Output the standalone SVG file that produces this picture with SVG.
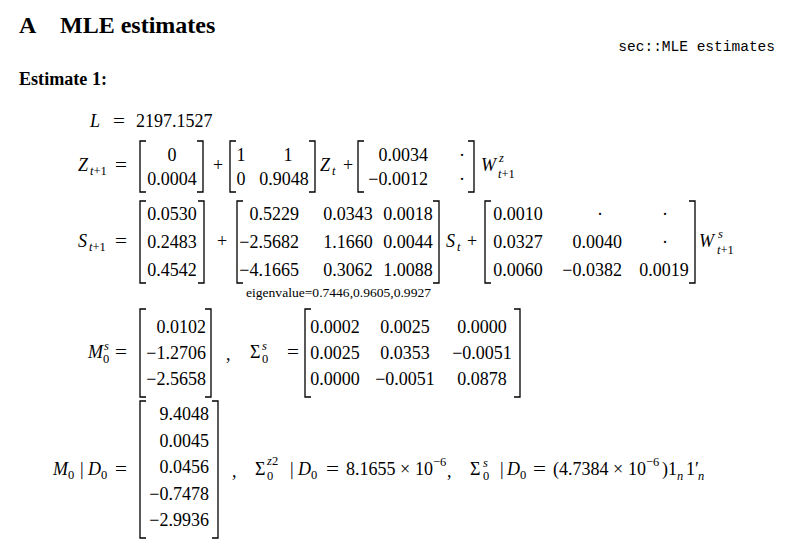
<svg xmlns="http://www.w3.org/2000/svg" width="789" height="548" viewBox="0 0 789 548">
<style>
text{font-family:"Liberation Serif","Times New Roman",serif;fill:#000}
.t{font-size:24px;font-weight:bold}
.h{font-size:18.5px;font-weight:bold}
.mono{font-family:"Liberation Mono","Courier New",monospace;font-size:14.5px}
.m{font-size:18px}
.i{font-style:italic}
.s{font-size:12.5px}
.e{font-size:12.5px}
.br{fill:none;stroke:#000;stroke-width:1.3}
</style>
<rect width="789" height="548" fill="#fff"/>
<g id="heading">
<text class="t" x="19" y="33">A</text>
<text class="t" x="60" y="33">MLE estimates</text>
<text class="mono" x="775" y="51" text-anchor="end">sec::MLE estimates</text>
<text class="h" x="19" y="85" textLength="88" lengthAdjust="spacingAndGlyphs">Estimate 1:</text>
</g>
<g id="eq-L">
<text class="m i" x="90" y="127">L</text>
<text class="m" x="113" y="127" textLength="12" lengthAdjust="spacingAndGlyphs">=</text>
<text class="m" x="136" y="127">2197.1527</text>
</g>
<g id="eq-Z">
<text class="m i" x="78" y="171">Z</text>
<text class="s" x="90" y="175"><tspan class="i">t</tspan>+1</text>
<text class="m" x="115" y="171" textLength="12" lengthAdjust="spacingAndGlyphs">=</text>
<path class="br" d="M146,141H140V192H146M197,141H203V192H197"/>
<text class="m" x="172" y="161" text-anchor="middle">0</text>
<text class="m" x="172" y="185" text-anchor="middle">0.0004</text>
<text class="m" x="218" y="171" text-anchor="middle">+</text>
<path class="br" d="M236,141H230V192H236M309,141H315V192H309"/>
<text class="m" x="241" y="161" text-anchor="middle">1</text>
<text class="m" x="288" y="161" text-anchor="middle">1</text>
<text class="m" x="241" y="185" text-anchor="middle">0</text>
<text class="m" x="284" y="185" text-anchor="middle">0.9048</text>
<text class="m i" x="320" y="171">Z</text>
<text class="s i" x="332" y="175">t</text>
<text class="m" x="348" y="171" text-anchor="middle">+</text>
<path class="br" d="M364,141H358V192H364M468,141H474V192H468"/>
<text class="m" x="428" y="161" text-anchor="end">0.0034</text>
<text class="m" x="428" y="185" text-anchor="end">−0.0012</text>
<text class="m" x="462" y="161" text-anchor="middle">·</text>
<text class="m" x="462" y="185" text-anchor="middle">·</text>
<text class="m i" x="481" y="171">W</text>
<text class="s i" x="499" y="162">z</text>
<text class="s" x="498" y="178"><tspan class="i">t</tspan>+1</text>
</g>
<g id="eq-S">
<text class="m i" x="78" y="247">S</text>
<text class="s" x="89" y="251"><tspan class="i">t</tspan>+1</text>
<text class="m" x="115" y="247" textLength="12" lengthAdjust="spacingAndGlyphs">=</text>
<path class="br" d="M146,201H140V283H146M198,201H204V283H198"/>
<text class="m" x="172" y="220" text-anchor="middle">0.0530</text>
<text class="m" x="172" y="248" text-anchor="middle">0.2483</text>
<text class="m" x="172" y="276" text-anchor="middle">0.4542</text>
<text class="m" x="222" y="247" text-anchor="middle">+</text>
<path class="br" d="M243,201H237V283H243M433,201H439V283H433"/>
<text class="m" x="299" y="220" text-anchor="end">0.5229</text>
<text class="m" x="299" y="248" text-anchor="end">−2.5682</text>
<text class="m" x="299" y="276" text-anchor="end">−4.1665</text>
<text class="m" x="348" y="220" text-anchor="middle">0.0343</text>
<text class="m" x="348" y="248" text-anchor="middle">1.1660</text>
<text class="m" x="348" y="276" text-anchor="middle">0.3062</text>
<text class="m" x="408" y="220" text-anchor="middle">0.0018</text>
<text class="m" x="408" y="248" text-anchor="middle">0.0044</text>
<text class="m" x="408" y="276" text-anchor="middle">1.0088</text>
<text class="e" x="246" y="297" textLength="185" lengthAdjust="spacingAndGlyphs">eigenvalue=0.7446,0.9605,0.9927</text>
<text class="m i" x="446" y="247">S</text>
<text class="s i" x="457" y="251">t</text>
<text class="m" x="472" y="247" text-anchor="middle">+</text>
<path class="br" d="M491,201H485V283H491M689,201H695V283H689"/>
<text class="m" x="518" y="220" text-anchor="middle">0.0010</text>
<text class="m" x="518" y="248" text-anchor="middle">0.0327</text>
<text class="m" x="518" y="276" text-anchor="middle">0.0060</text>
<text class="m" x="600" y="220" text-anchor="middle">·</text>
<text class="m" x="622" y="248" text-anchor="end">0.0040</text>
<text class="m" x="622" y="276" text-anchor="end">−0.0382</text>
<text class="m" x="665" y="220" text-anchor="middle">·</text>
<text class="m" x="665" y="248" text-anchor="middle">·</text>
<text class="m" x="664" y="276" text-anchor="middle">0.0019</text>
<text class="m i" x="699" y="247">W</text>
<text class="s i" x="718" y="238">s</text>
<text class="s" x="717" y="254"><tspan class="i">t</tspan>+1</text>
</g>
<g id="eq-Ms">
<text class="m i" x="88" y="358">M</text>
<text class="s i" x="104" y="350">s</text>
<text class="s" x="103" y="363">0</text>
<text class="m" x="115" y="358" textLength="12" lengthAdjust="spacingAndGlyphs">=</text>
<path class="br" d="M146,309H140V397H146M205,309H211V397H205"/>
<text class="m" x="206" y="333" text-anchor="end">0.0102</text>
<text class="m" x="206" y="359" text-anchor="end">−1.2706</text>
<text class="m" x="206" y="385" text-anchor="end">−2.5658</text>
<text class="m" x="226" y="360">,</text>
<text class="m" x="250" y="358">Σ</text>
<text class="s i" x="262" y="350">s</text>
<text class="s" x="262" y="363">0</text>
<text class="m" x="287" y="358" textLength="12" lengthAdjust="spacingAndGlyphs">=</text>
<path class="br" d="M311,309H305V397H311M514,309H520V397H514"/>
<text class="m" x="335" y="333" text-anchor="middle">0.0002</text>
<text class="m" x="335" y="359" text-anchor="middle">0.0025</text>
<text class="m" x="335" y="385" text-anchor="middle">0.0000</text>
<text class="m" x="405" y="333" text-anchor="middle">0.0025</text>
<text class="m" x="405" y="359" text-anchor="middle">0.0353</text>
<text class="m" x="405" y="385" text-anchor="middle">−0.0051</text>
<text class="m" x="482" y="333" text-anchor="middle">0.0000</text>
<text class="m" x="482" y="359" text-anchor="middle">−0.0051</text>
<text class="m" x="482" y="385" text-anchor="middle">0.0878</text>
</g>
<g id="eq-M0">
<text class="m i" x="53" y="475">M</text>
<text class="s" x="68" y="479">0</text>
<text class="m" x="80" y="475">|</text>
<text class="m i" x="88" y="475">D</text>
<text class="s" x="101" y="479">0</text>
<text class="m" x="115" y="475" textLength="12" lengthAdjust="spacingAndGlyphs">=</text>
<path class="br" d="M146,401H140V538H146M212,401H218V538H212"/>
<text class="m" x="209" y="420" text-anchor="end">9.4048</text>
<text class="m" x="209" y="446.5" text-anchor="end">0.0045</text>
<text class="m" x="209" y="473" text-anchor="end">0.0456</text>
<text class="m" x="209" y="499.5" text-anchor="end">−0.7478</text>
<text class="m" x="209" y="526" text-anchor="end">−2.9936</text>
<text class="m" x="232" y="477">,</text>
<text class="m" x="255" y="475">Σ</text>
<text class="s" x="267" y="465"><tspan class="i">z</tspan>2</text>
<text class="s" x="267" y="480">0</text>
<text class="m" x="290" y="475">|</text>
<text class="m i" x="298" y="475">D</text>
<text class="s" x="311" y="479">0</text>
<text class="m" x="326" y="475" textLength="13" lengthAdjust="spacingAndGlyphs">=</text>
<text class="m" x="346" y="475">8.1655</text>
<text class="m" x="400" y="475">×</text>
<text class="m" x="415" y="475">10</text>
<text class="s" x="433" y="466">−6</text>
<text class="m" x="447" y="477">,</text>
<text class="m" x="470" y="475">Σ</text>
<text class="s i" x="483" y="467">s</text>
<text class="s" x="483" y="480">0</text>
<text class="m" x="500" y="475">|</text>
<text class="m i" x="507" y="475">D</text>
<text class="s" x="520" y="479">0</text>
<text class="m" x="533" y="475" textLength="13" lengthAdjust="spacingAndGlyphs">=</text>
<text class="m" x="553" y="475">(4.7384</text>
<text class="m" x="613" y="475">×</text>
<text class="m" x="628" y="475">10</text>
<text class="s" x="646" y="466">−6</text>
<text class="m" x="662" y="475">)1</text>
<text class="s i" x="677" y="480">n</text>
<text class="m" x="686" y="475">1′</text>
<text class="s i" x="698" y="480">n</text>
</g>
</svg>
